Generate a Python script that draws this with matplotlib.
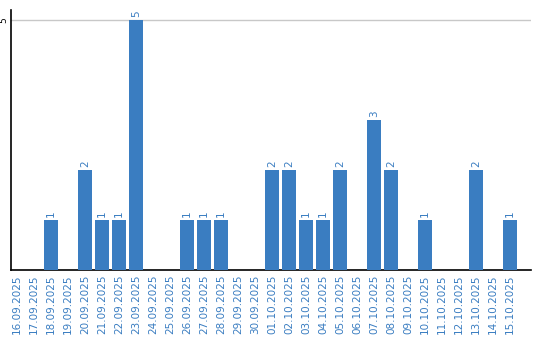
import matplotlib
matplotlib.use("Agg")
import matplotlib.pyplot as plt

dates = ["16.09.2025", "17.09.2025", "18.09.2025", "19.09.2025", "20.09.2025",
         "21.09.2025", "22.09.2025", "23.09.2025", "24.09.2025", "25.09.2025",
         "26.09.2025", "27.09.2025", "28.09.2025", "29.09.2025", "30.09.2025",
         "01.10.2025", "02.10.2025", "03.10.2025", "04.10.2025", "05.10.2025",
         "06.10.2025", "07.10.2025", "08.10.2025", "09.10.2025", "10.10.2025",
         "11.10.2025", "12.10.2025", "13.10.2025", "14.10.2025", "15.10.2025"]
values = [0, 0, 1, 0, 2, 1, 1, 5, 0, 0, 1, 1, 1, 0, 0,
          2, 2, 1, 1, 2, 0, 3, 2, 0, 1, 0, 0, 2, 0, 1]
yticks = [5]

blue = "#3a7dc1"
W, H = 540, 340
fig = plt.figure(figsize=(W / 100, H / 100), dpi=100)
ax = fig.add_axes([10.5 / W, (H - 270) / H, 520.5 / W, 260 / H])

x = list(range(len(dates)))
bars = ax.bar(x, values, width=0.82, color=blue, zorder=3)
for xi, v in zip(x, values):
    if v > 0:
        ax.text(xi, v + 0.06, str(v), rotation=90, ha="center", va="bottom",
                color=blue, fontsize=7.5, zorder=4)

ax.set_xlim(-0.38, 30.24)
ax.set_ylim(0, 5.2)
ax.set_xticks(x)
ax.set_xticklabels(dates, rotation=90, color=blue, fontsize=7.5)
ax.set_yticks(yticks)
ax.set_yticklabels([str(t) for t in yticks], rotation=90, fontsize=6.5, va="center")
ax.tick_params(axis="both", length=0, pad=3)
ax.tick_params(axis="y", pad=1.5)
ax.grid(axis="y", color="#c8c8c8", linewidth=1, zorder=0)
for s in ["top", "right"]:
    ax.spines[s].set_visible(False)
for s in ["left", "bottom"]:
    ax.spines[s].set_color("black")
    ax.spines[s].set_linewidth(1.2)

fig.savefig("out.png", dpi=100)
